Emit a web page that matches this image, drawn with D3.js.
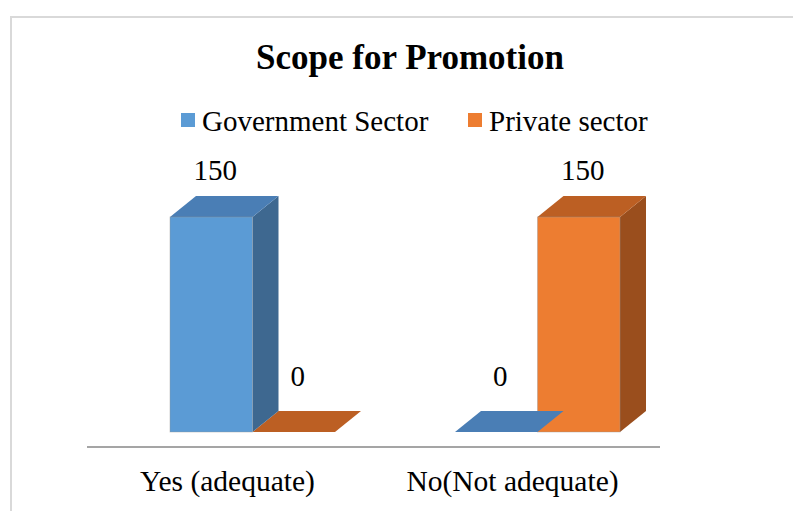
<!DOCTYPE html>
<html>
<head>
<meta charset="utf-8">
<script src="https://cdn.jsdelivr.net/npm/d3@7/dist/d3.min.js"></script>
<style>
  html, body { margin: 0; padding: 0; background: #fff; }
  svg { display: block; }
  text { font-family: "Liberation Serif", "Times New Roman", serif; fill: #000; }
</style>
</head>
<body>
<svg id="chart" width="793" height="511"></svg>
<script>
// Chart data
const title = "Scope for Promotion";
const categories = ["Yes (adequate)", "No(Not adequate)"];
const seriesNames = ["Government Sector", "Private sector"];
const governmentValues = [150, 0];
const privateValues = [0, 150];

const seriesValues = [governmentValues, privateValues];
const palette = [
  { front: "#5b9bd5", top: "#4a7eb5", side: "#3e6890" },
  { front: "#ed7d31", top: "#bc5f23", side: "#9a4e1d" }
];

const svg = d3.select("#chart");
const W = 793, H = 511;

// Outer chart frame (runs off the right/bottom edges)
svg.append("rect")
  .attr("x", 11).attr("y", 17)
  .attr("width", W + 20).attr("height", H + 20)
  .attr("fill", "#fff")
  .attr("stroke", "#d9d9d9").attr("stroke-width", 2);

// Title
svg.append("text")
  .attr("x", 410).attr("y", 69)
  .attr("text-anchor", "middle")
  .attr("font-weight", "bold")
  .attr("font-size", 35)
  .text(title);

// Scales
const x0 = d3.scaleBand().domain(categories).range([85, 655]);
const groupOffset = -57.5;       // left edge of the bar pair relative to the band centre
const groupWidth = 165;
const x1 = d3.scaleBand().domain(seriesNames).range([0, groupWidth]);
const y = d3.scaleLinear().domain([0, 150]).range([432, 217]);

// 3-D depth of each bar
const dx = 26, dy = -21;

// Legend
const legendItems = [
  { name: seriesNames[0], x: 181 },
  { name: seriesNames[1], x: 468 }
];
const legend = svg.append("g");
legendItems.forEach((it, i) => {
  legend.append("rect")
    .attr("x", it.x).attr("y", 113)
    .attr("width", 14).attr("height", 14)
    .attr("fill", palette[i].front);
  legend.append("text")
    .attr("x", it.x + 21).attr("y", 131)
    .attr("font-size", 29)
    .text(it.name);
});

// Axis baseline
svg.append("line")
  .attr("x1", 87).attr("x2", 660)
  .attr("y1", 447).attr("y2", 447)
  .attr("stroke", "#a5a5a5").attr("stroke-width", 2);

// Bars, drawn back-to-front so the side faces overlap correctly
const bars = [];
categories.forEach((c, ci) => {
  seriesNames.forEach((s, si) => {
    bars.push({ cat: c, series: s, si, value: seriesValues[si][ci] });
  });
});

const barsG = svg.append("g");
bars.slice().sort((a, b) => b.si - a.si).forEach(b => {
  const xl = x0(b.cat) + x0.bandwidth() / 2 + groupOffset + x1(b.series);
  const xr = xl + x1.bandwidth();
  const yt = y(b.value);
  const yb = y(0);
  const col = palette[b.si];
  const pt = p => p.map(q => q.join(",")).join(" ");
  // side face
  barsG.append("polygon")
    .attr("points", pt([[xr, yt], [xr + dx, yt + dy], [xr + dx, yb + dy], [xr, yb]]))
    .attr("fill", col.side);
  // top face
  barsG.append("polygon")
    .attr("points", pt([[xl, yt], [xl + dx, yt + dy], [xr + dx, yt + dy], [xr, yt]]))
    .attr("fill", col.top);
  // front face
  if (yb - yt > 0) {
    barsG.append("rect")
      .attr("x", xl).attr("y", yt)
      .attr("width", xr - xl).attr("height", yb - yt)
      .attr("fill", col.front)
      .attr("stroke", "rgba(150,150,150,0.5)").attr("stroke-width", 0.8);
  }
});

// Value labels above each bar
svg.append("g").selectAll("text")
  .data(bars)
  .join("text")
  .attr("x", d => x0(d.cat) + x0.bandwidth() / 2 + groupOffset + x1(d.series) + x1.bandwidth() / 2 + 4)
  .attr("y", d => y(d.value) * 0.955 - 27)
  .attr("text-anchor", "middle")
  .attr("font-size", 29)
  .text(d => d.value);

// Category labels
svg.append("g").selectAll("text")
  .data(categories)
  .join("text")
  .attr("x", d => x0(d) + x0.bandwidth() / 2)
  .attr("y", 491)
  .attr("text-anchor", "middle")
  .attr("font-size", 29.5)
  .text(d => d);
</script>
</body>
</html>
